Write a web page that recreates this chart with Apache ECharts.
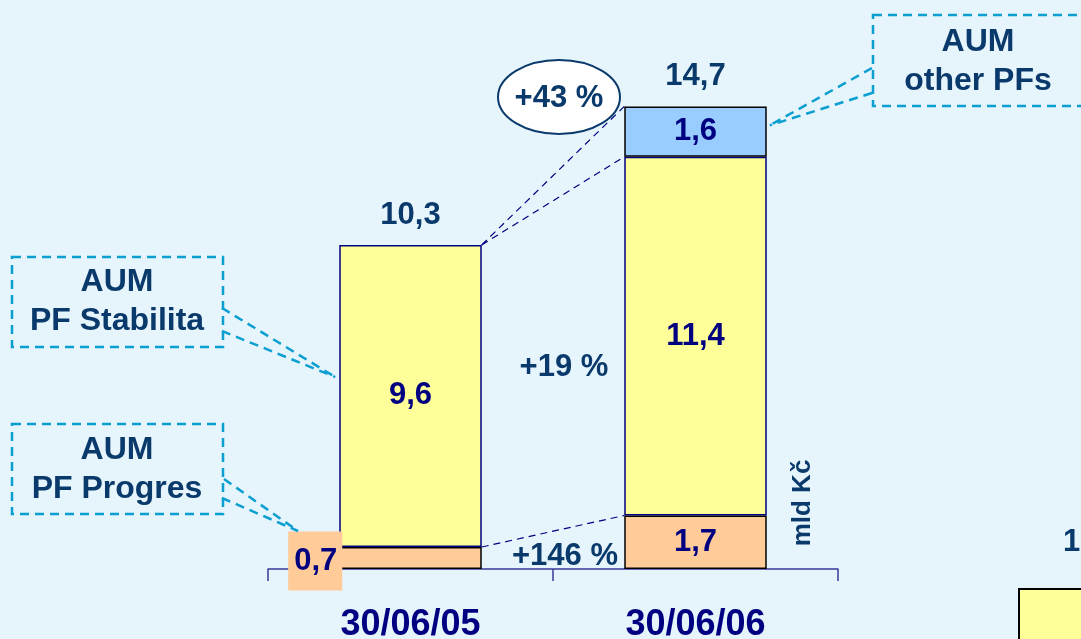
<!DOCTYPE html>
<html>
<head>
<meta charset="utf-8">
<script src="https://cdn.jsdelivr.net/npm/echarts@6/dist/echarts.min.js"></script>
<style>
html,body{margin:0;padding:0;background:#e6f4fc;overflow:hidden;width:1081px;height:639px;}
#main{width:1240px;height:760px;}
</style>
</head>
<body>
<div id="main"></div>
<script>
// ---- data ----
const categories = ['30/06/05', '30/06/06'];
const pfProgres = [0.7, 1.7];
const pfStabilita = [9.6, 11.4];
const otherPFs = [null, 1.6];
const totals = [10.3, 14.7];
const growthLabels = ['+43 %', '+19 %', '+146 %'];
const calloutTexts = ['AUM\nPF Stabilita', 'AUM\nPF Progres', 'AUM\nother PFs'];
const unitLabel = 'mld Kč';
const nextChartValues = [1];
const nextChartLabels = ['1'];

const FONT = '"Liberation Sans", Arial, sans-serif';
const DARK = '#0a3a6b';
const NAVY = '#000080';
const fmt = v => (v === null || v === undefined) ? '' : String(v).replace('.', ',');

const insideLabel = {
  show: true, position: 'inside', color: NAVY, fontFamily: FONT,
  fontWeight: 'bold', fontSize: 31,
  formatter: p => fmt(p.value)
};

const chart = echarts.init(document.getElementById('main'), null, {renderer: 'canvas'});

const option = {
  backgroundColor: '#e6f4fc',
  animation: false,
  grid: [
    {left: 268, top: 97, width: 570, height: 472},
    {left: 1018, top: 588, width: 143, height: 150}
  ],
  xAxis: [{
    type: 'category', data: categories, gridIndex: 0,
    axisLine: {lineStyle: {color: '#3a3a99', width: 1.5}},
    axisTick: {show: true, length: 12, lineStyle: {color: '#3a3a99', width: 1.5}},
    axisLabel: {color: NAVY, fontFamily: FONT, fontWeight: 'bold', fontSize: 36, margin: 38}
  }, {
    type: 'category', data: [''], gridIndex: 1, show: false
  }],
  yAxis: [{
    type: 'value', min: 0, max: 15, show: false, gridIndex: 0,
    splitLine: {show: false}
  }, {
    type: 'value', min: 0, max: 1, show: false, gridIndex: 1, splitLine: {show: false}
  }],
  series: [
    {
      name: 'PF Progres', type: 'bar', stack: 'aum', barWidth: '50%',
      itemStyle: {color: '#ffcc99', borderColor: '#000000', borderWidth: 1.5},
      label: insideLabel,
      data: pfProgres.map((v, i) => i === 0 ? {
        value: v,
        label: {
          position: 'left', distance: -3, offset: [0, 3],
          backgroundColor: '#ffcc99', padding: [14, 5, 14, 6], lineHeight: 31
        }
      } : v),
      z: 3
    },
    {
      name: 'PF Stabilita', type: 'bar', stack: 'aum', barWidth: '50%',
      itemStyle: {color: '#ffff99', borderColor: NAVY, borderWidth: 1.5},
      label: insideLabel,
      data: pfStabilita,
      z: 2
    },
    {
      name: 'other PFs', type: 'bar', stack: 'aum', barWidth: '50%',
      itemStyle: {color: '#99ccff', borderColor: '#000000', borderWidth: 1.5},
      label: insideLabel,
      data: otherPFs,
      z: 2
    },
    {
      name: 'total', type: 'bar', barWidth: '50%', barGap: '-100%',
      itemStyle: {color: 'rgba(0,0,0,0)'},
      label: {
        show: true, position: 'top', distance: 14, color: DARK, fontFamily: FONT,
        fontWeight: 'bold', fontSize: 31, formatter: p => fmt(p.value)
      },
      data: totals,
      z: 1
    },
    {
      name: 'next', type: 'bar', xAxisIndex: 1, yAxisIndex: 1, barWidth: '100%',
      itemStyle: {color: '#ffff99', borderColor: '#000000', borderWidth: 2},
      label: {
        show: true, position: 'top', distance: 30, offset: [-18, 0], color: DARK,
        fontFamily: FONT, fontWeight: 'bold', fontSize: 31,
        formatter: p => nextChartLabels[p.dataIndex]
      },
      data: nextChartValues
    }
  ]
};
chart.setOption(option);

// ---- annotations positioned from the axes ----
const px = (i, v) => chart.convertToPixel({xAxisIndex: 0, yAxisIndex: 0}, [i, v]);
const band = px(1, 0)[0] - px(0, 0)[0];
const half = band * 0.25;
const x0 = px(0, 0)[0], x1 = px(1, 0)[0];
const y = v => px(0, v)[1];
const top0 = pfProgres[0] + pfStabilita[0];
const top1 = pfProgres[1] + pfStabilita[1] + otherPFs[1];
const mid1 = pfProgres[1] + pfStabilita[1];

const navyDash = {stroke: NAVY, lineWidth: 1.2, lineDash: [7, 5], fill: null};
const cyanDash = {stroke: '#0a9fd0', lineWidth: 2.5, lineDash: [9, 6], fill: null};
const txt = (text, x, yy, size, color) => ({
  type: 'text', z: 20,
  style: {
    text, x, y: yy, fill: color || DARK,
    font: 'bold ' + size + 'px ' + FONT,
    align: 'center', verticalAlign: 'middle', textAlign: 'center', textVerticalAlign: 'middle',
    lineHeight: 39
  }
});
const line = (a, b, style) => ({type: 'line', z: 10, shape: {x1: a[0], y1: a[1], x2: b[0], y2: b[1]}, style});

const A = [x0 + half, y(top0)];
const graphics = [
  line(A, [x1 - half, y(top1)], navyDash),
  line(A, [x1 - half, y(mid1)], navyDash),
  line([x0 + half, y(pfProgres[0])], [x1 - half, y(pfProgres[1])], navyDash),
  {type: 'ellipse', z: 15, shape: {cx: 559, cy: 97, rx: 61, ry: 37},
   style: {fill: '#ffffff', stroke: DARK, lineWidth: 2}},
  txt(growthLabels[0], 559, 98, 31),
  txt(growthLabels[1], 564, 367, 31),
  txt(growthLabels[2], 565, 556, 31),
  // callout Stabilita
  {type: 'rect', z: 10, shape: {x: 12, y: 257, width: 211, height: 90}, style: cyanDash},
  line([222, 308], [x0 - half - 4, y(6.1)], cyanDash),
  line([222, 331], [x0 - half - 4, y(6.1)], cyanDash),
  txt(calloutTexts[0], 117, 302, 32),
  // callout Progres
  {type: 'rect', z: 10, shape: {x: 12, y: 424, width: 211, height: 90}, style: cyanDash},
  line([224, 479], [298, 531], cyanDash),
  line([222, 498], [298, 531], cyanDash),
  txt(calloutTexts[1], 117, 470, 32),
  // callout other PFs
  {type: 'rect', z: 10, shape: {x: 873, y: 15, width: 211, height: 91}, style: cyanDash},
  line([872, 68], [x1 + half + 3, y(14.1)], cyanDash),
  line([872, 93], [x1 + half + 3, y(14.1)], cyanDash),
  txt(calloutTexts[2], 978, 62, 32),
  // unit
  {type: 'text', z: 20, x: 803, y: 503, rotation: Math.PI / 2,
   style: {text: unitLabel, x: 0, y: 0, fill: DARK, font: 'bold 26px ' + FONT,
     align: 'center', verticalAlign: 'middle', textAlign: 'center', textVerticalAlign: 'middle'}}
];
chart.setOption({graphic: graphics});
</script>
</body>
</html>
